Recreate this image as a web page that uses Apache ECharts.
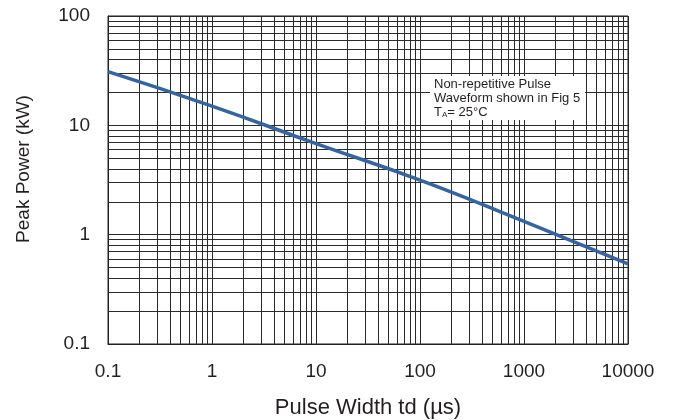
<!DOCTYPE html>
<html>
<head>
<meta charset="utf-8">
<script src="https://cdn.jsdelivr.net/npm/echarts@6/dist/echarts.min.js"></script>
<style>html,body{margin:0;padding:0;background:#fff;}#c{width:673px;height:420px;}</style>
</head>
<body>
<div id="c"></div>
<script>
// Pulse width (µs) and peak power (kW)
var pulseWidth = [0.1, 1, 10, 100, 1000, 10000];
var peakPower  = [31, 15, 6.8, 3.15, 1.32, 0.54];

var xTickLabels = ['0.1', '1', '10', '100', '1000', '10000'];
var yTickLabels = ['0.1', '1', '10', '100'];

// Minor (2..9 per decade) grid values
var xMinorGrid = [0.2,0.3,0.4,0.5,0.6,0.7,0.8,0.9,
                  2,3,4,5,6,7,8,9,
                  20,30,40,50,60,70,80,90,
                  200,300,400,500,600,700,800,900,
                  2000,3000,4000,5000,6000,7000,8000,9000];
var yMinorGrid = [0.2,0.3,0.4,0.5,0.6,0.7,0.8,0.9,
                  2,3,4,5,6,7,8,9,
                  20,30,40,50,60,70,80,90];

var annotation = ['Non-repetitive Pulse', 'Waveform shown in Fig 5', 'T{s|A}= 25°C'];

var FONT = '"Liberation Sans", Arial, sans-serif';
var GRID_COLOR = '#2a2a2a';
var TEXT_COLOR = '#231f20';

function pickLabel(list, v) {
  var lv = Math.log10(v);
  for (var i = 0; i < list.length; i++) {
    if (Math.abs(Math.log10(parseFloat(list[i])) - lv) < 1e-6) return list[i];
  }
  return '';
}

var gridLines = [];
xMinorGrid.forEach(function (v) { gridLines.push({ xAxis: v }); });
yMinorGrid.forEach(function (v) { gridLines.push({ yAxis: v }); });

var chart = echarts.init(document.getElementById('c'), null, { renderer: 'canvas' });
chart.setOption({
  animation: false,
  backgroundColor: '#fff',
  grid: { left: 108, right: 45, top: 16, bottom: 76, containLabel: false, outerBoundsMode: 'none',
          show: true, borderColor: '#222', borderWidth: 1, backgroundColor: 'transparent' },
  xAxis: {
    type: 'log', logBase: 10, min: 0.1, max: 10000,
    name: 'Pulse Width td (µs)', nameLocation: 'middle', nameGap: 53,
    nameTextStyle: { fontFamily: FONT, fontSize: 22, color: TEXT_COLOR },
    axisLine: { show: true, lineStyle: { color: '#222', width: 1 } },
    axisTick: { show: false },
    axisLabel: { fontFamily: FONT, fontSize: 19, color: TEXT_COLOR, margin: 18,
      formatter: function (v) { return pickLabel(xTickLabels, v); } },
    splitLine: { show: true, lineStyle: { color: GRID_COLOR, width: 1 } }
  },
  yAxis: {
    type: 'log', logBase: 10, min: 0.1, max: 100,
    name: 'Peak Power (kW)', nameLocation: 'middle', nameGap: 75,
    nameTextStyle: { fontFamily: FONT, fontSize: 19, color: TEXT_COLOR, padding: [0, 0, 0, 22] },
    axisLine: { show: true, lineStyle: { color: '#222', width: 1 } },
    axisTick: { show: false },
    axisLabel: { fontFamily: FONT, fontSize: 19, color: TEXT_COLOR, margin: 18,
      formatter: function (v) { return pickLabel(yTickLabels, v); } },
    splitLine: { show: true, lineStyle: { color: GRID_COLOR, width: 1 } }
  },
  series: [
    {
      type: 'line', data: [], z: 1, silent: true,
      markLine: {
        silent: true, symbol: ['none', 'none'], animation: false,
        label: { show: false },
        lineStyle: { color: GRID_COLOR, width: 1, type: 'solid' },
        emphasis: { disabled: true },
        data: gridLines
      }
    },
    {
      type: 'line', z: 5, smooth: true, symbol: 'none',
      lineStyle: { color: '#3465a0', width: 3.5 },
      data: pulseWidth.map(function (x, i) { return [x, peakPower[i]]; })
    }
  ],
  graphic: [{
    type: 'text', left: 430, top: 76, z: 100,
    style: {
      text: annotation.join('\n'),
      fontFamily: FONT, fontSize: 13, lineHeight: 14, fill: TEXT_COLOR,
      backgroundColor: '#fff', padding: [1, 5, 1, 4],
      rich: { s: { fontSize: 8, fontFamily: FONT, fill: TEXT_COLOR, verticalAlign: 'bottom', lineHeight: 14, padding: [5, 0, 0, 0] } }
    }
  }]
});
</script>
</body>
</html>
